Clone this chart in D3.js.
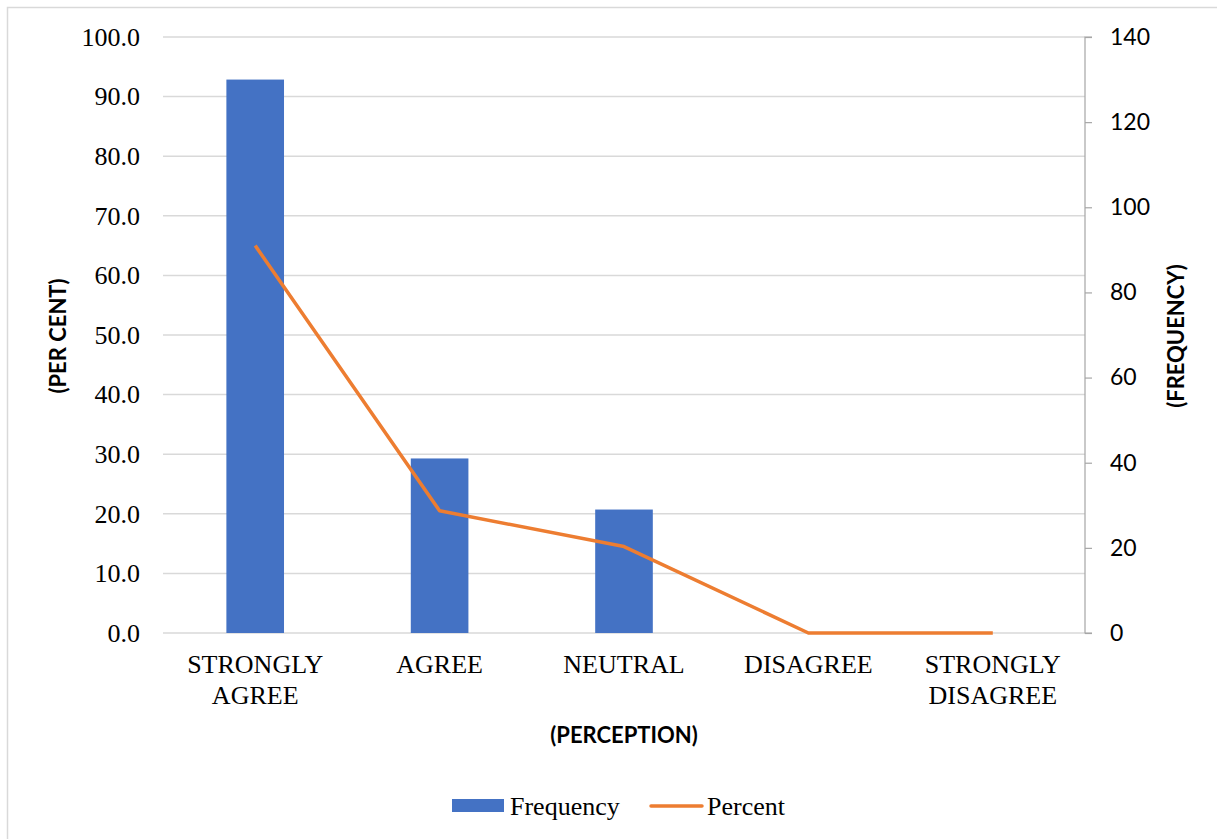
<!DOCTYPE html>
<html>
<head>
<meta charset="utf-8">
<script src="https://cdn.jsdelivr.net/npm/d3@7/dist/d3.min.js"></script>
<style>
  html, body { margin: 0; padding: 0; background: #fff; }
  svg { display: block; }
</style>
</head>
<body>
<svg id="chart" width="1217" height="839"></svg>
<script>
// Survey responses by perception level
const categories = ["STRONGLY AGREE", "AGREE", "NEUTRAL", "DISAGREE", "STRONGLY DISAGREE"];
const frequency = [130, 41, 29, 0, 0];
const percent = [65.0, 20.5, 14.5, 0.0, 0.0];
const percentTicks = [0, 10, 20, 30, 40, 50, 60, 70, 80, 90, 100];
const frequencyTicks = [0, 20, 40, 60, 80, 100, 120, 140];

const W = 1217, H = 839;
const plot = { left: 163, right: 1085, top: 37, bottom: 633 };
const serif = "'Liberation Serif', 'Times New Roman', serif";
const serifSize = 26;

const svg = d3.select("#chart");

// outer chart frame
svg.append("rect")
  .attr("x", 7.5).attr("y", 7.5)
  .attr("width", 1240).attr("height", 860)
  .attr("fill", "#fff")
  .attr("stroke", "#d9d9d9").attr("stroke-width", 1.5);

const x = d3.scaleBand()
  .domain(categories)
  .range([plot.left, plot.right])
  .paddingInner(0).paddingOuter(0);

const yPct = d3.scaleLinear().domain([0, 100]).range([plot.bottom, plot.top]);
const yFreq = d3.scaleLinear().domain([0, 140]).range([plot.bottom, plot.top]);

// horizontal gridlines on the percent scale
svg.append("g")
  .selectAll("line")
  .data(percentTicks)
  .join("line")
  .attr("x1", plot.left).attr("x2", plot.right)
  .attr("y1", d => yPct(d)).attr("y2", d => yPct(d))
  .attr("stroke", "#d9d9d9").attr("stroke-width", 1.5);

// left axis labels (percent)
svg.append("g")
  .selectAll("text")
  .data(percentTicks)
  .join("text")
  .attr("x", 140)
  .attr("y", d => yPct(d))
  .attr("dy", "0.34em")
  .attr("text-anchor", "end")
  .attr("font-family", serif)
  .attr("font-size", serifSize)
  .attr("fill", "#000")
  .text(d => d.toFixed(1));

// right axis (frequency)
const rightAxis = d3.axisRight(yFreq)
  .tickValues(frequencyTicks)
  .tickSize(7)
  .tickPadding(18)
  .tickFormat(d3.format("d"));

const gR = svg.append("g")
  .attr("transform", `translate(${plot.right},0)`)
  .call(rightAxis);
gR.select(".domain").attr("stroke", "#a6a6a6").attr("stroke-width", 1.2)
  .attr("d", `M7,${plot.top}H0V${plot.bottom}H7`);
gR.selectAll(".tick line").attr("stroke", "#a6a6a6").attr("stroke-width", 1.2);
gR.selectAll(".tick text")
  .attr("font-family", "Lato, 'Liberation Sans', sans-serif")
  .attr("font-size", 23)
  .attr("fill", "#000");

// frequency bars (right scale)
const barW = x.bandwidth() * 0.3125;
svg.append("g")
  .selectAll("rect")
  .data(categories.map((c, i) => ({ c, v: frequency[i] })))
  .join("rect")
  .attr("x", d => x(d.c) + (x.bandwidth() - barW) / 2)
  .attr("y", d => yFreq(d.v))
  .attr("width", barW)
  .attr("height", d => yFreq(0) - yFreq(d.v))
  .attr("fill", "#4472c4");

// percent line (left scale)
const line = d3.line()
  .x((d, i) => x(categories[i]) + x.bandwidth() / 2)
  .y(d => yPct(d));
svg.append("path")
  .datum(percent)
  .attr("d", line)
  .attr("fill", "none")
  .attr("stroke", "#ed7d31")
  .attr("stroke-width", 3.5)
  .attr("stroke-linejoin", "round");

// category labels, wrapped at the space for two-word entries
const catG = svg.append("g");
categories.forEach(c => {
  const words = c.split(" ");
  const t = catG.append("text")
    .attr("text-anchor", "middle")
    .attr("font-family", serif)
    .attr("font-size", serifSize)
    .attr("fill", "#000");
  words.forEach((w, j) => {
    t.append("tspan")
      .attr("x", x(c) + x.bandwidth() / 2)
      .attr("y", 673 + j * 31)
      .text(w);
  });
});

// axis titles
const titleFont = "Lato, 'Liberation Sans', sans-serif";
svg.append("text")
  .attr("transform", "translate(66,336) rotate(-90)")
  .attr("text-anchor", "middle")
  .attr("font-family", titleFont).attr("font-weight", "bold")
  .attr("font-size", 22).attr("fill", "#000")
  .text("(PER CENT)");

svg.append("text")
  .attr("transform", "translate(1184,336) rotate(-90)")
  .attr("text-anchor", "middle")
  .attr("font-family", titleFont).attr("font-weight", "bold")
  .attr("font-size", 22).attr("fill", "#000")
  .text("(FREQUENCY)");

svg.append("text")
  .attr("x", 624).attr("y", 743)
  .attr("text-anchor", "middle")
  .attr("font-family", titleFont).attr("font-weight", "bold")
  .attr("font-size", 22).attr("fill", "#000")
  .text("(PERCEPTION)");

// legend
const lg = svg.append("g")
  .attr("font-family", serif)
  .attr("font-size", serifSize).attr("fill", "#000");
lg.append("rect")
  .attr("x", 452).attr("y", 799).attr("width", 52).attr("height", 13)
  .attr("fill", "#4472c4");
lg.append("text").attr("x", 510).attr("y", 815).text("Frequency");
lg.append("line")
  .attr("x1", 651).attr("x2", 702).attr("y1", 806).attr("y2", 806)
  .attr("stroke", "#ed7d31").attr("stroke-width", 3.5)
  .attr("stroke-linecap", "round");
lg.append("text").attr("x", 707).attr("y", 815).text("Percent");
</script>
</body>
</html>
